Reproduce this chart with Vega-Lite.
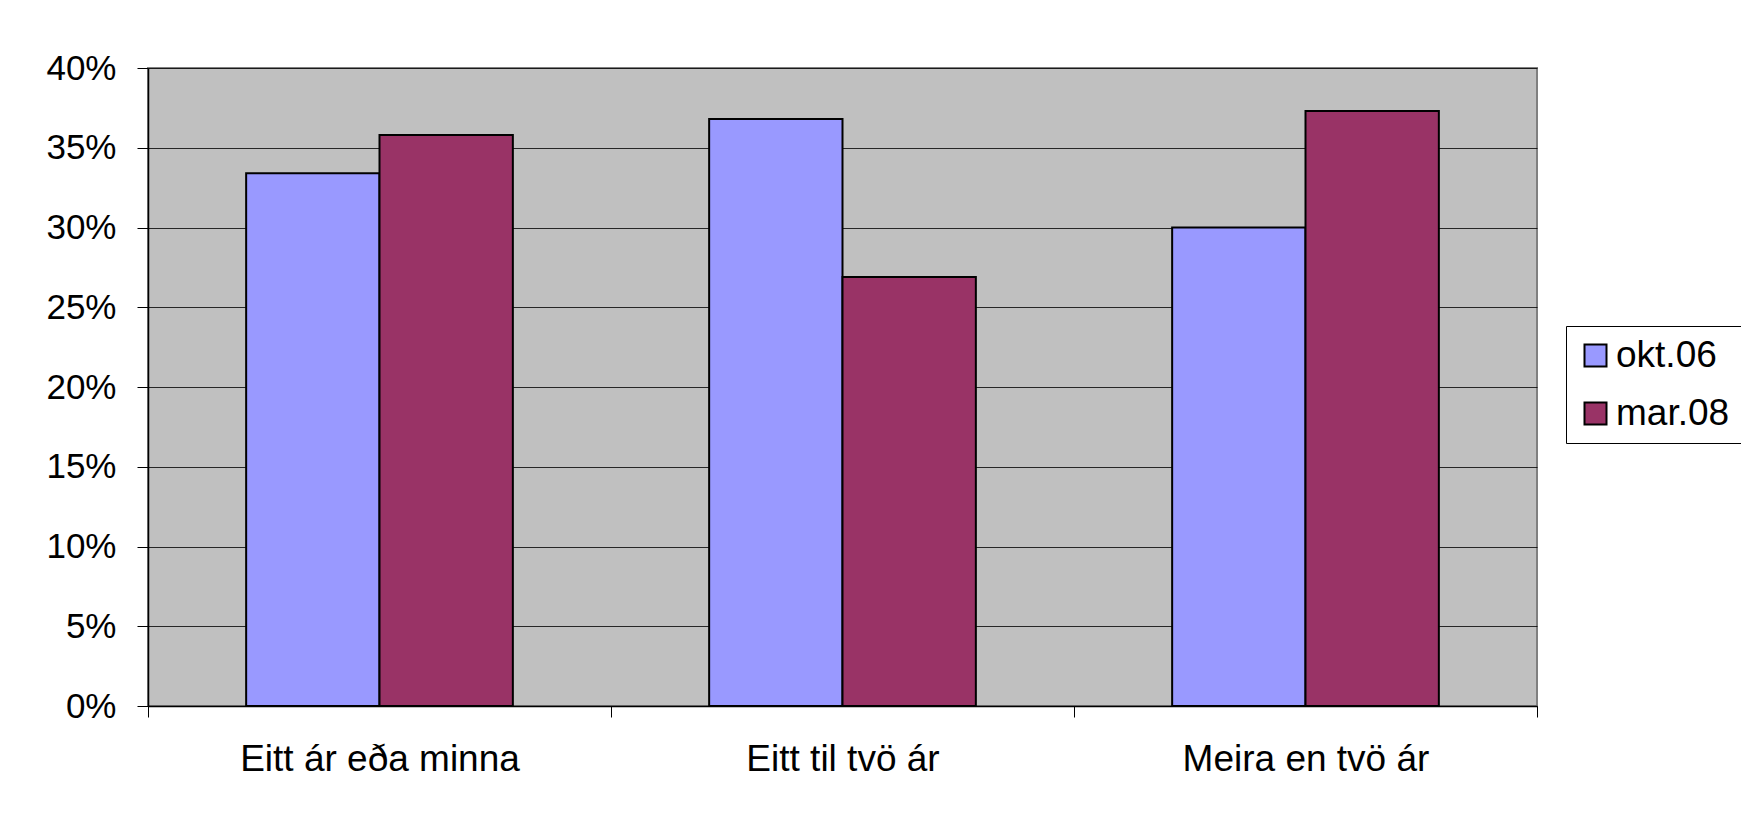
{
  "$schema": "https://vega.github.io/schema/vega-lite/v6.json",
  "width": 1389,
  "height": 638,
  "autosize": {"type": "none"},
  "padding": {"left": 148, "top": 68, "right": 204, "bottom": 112},
  "background": "white",
  "config": {
    "font": "Liberation Sans",
    "view": {"fill": "#C0C0C0", "stroke": "#808080", "strokeWidth": 2}
  },
  "data": {
    "values": [
      {"cat": "Eitt ár eða minna", "series": "okt.06", "value": 0.334},
      {"cat": "Eitt ár eða minna", "series": "mar.08", "value": 0.358},
      {"cat": "Eitt til tvö ár", "series": "okt.06", "value": 0.368},
      {"cat": "Eitt til tvö ár", "series": "mar.08", "value": 0.269},
      {"cat": "Meira en tvö ár", "series": "okt.06", "value": 0.300},
      {"cat": "Meira en tvö ár", "series": "mar.08", "value": 0.373}
    ]
  },
  "mark": {"type": "bar", "stroke": "black", "strokeWidth": 2},
  "encoding": {
    "x": {
      "field": "cat",
      "type": "nominal",
      "sort": ["Eitt ár eða minna", "Eitt til tvö ár", "Meira en tvö ár"],
      "scale": {"paddingInner": 0, "paddingOuter": 0},
      "axis": {
        "title": null,
        "labelAngle": 0,
        "labelLimit": 0,
        "tickBand": "extent",
        "tickSize": 11,
        "tickColor": "black",
        "domainColor": "black",
        "domainWidth": 1.5,
        "labelPadding": 53,
        "labelBaseline": "alphabetic",
        "labelFontSize": 37,
        "labelColor": "black",
        "grid": false
      }
    },
    "xOffset": {
      "field": "series",
      "type": "nominal",
      "sort": ["okt.06", "mar.08"],
      "scale": {"paddingInner": 0, "paddingOuter": 0.736}
    },
    "y": {
      "field": "value",
      "type": "quantitative",
      "scale": {"domain": [0, 0.4], "nice": false},
      "axis": {
        "title": null,
        "values": [0, 0.05, 0.1, 0.15, 0.2, 0.25, 0.3, 0.35, 0.4],
        "format": ".0%",
        "grid": true,
        "gridColor": "black",
        "gridWidth": 1,
        "gridOpacity": 0.8,
        "tickSize": 11,
        "tickColor": "black",
        "domainColor": "black",
        "domainWidth": 1.5,
        "labelPadding": 21,
        "labelFontSize": 35,
        "labelColor": "black"
      }
    },
    "color": {
      "field": "series",
      "type": "nominal",
      "scale": {"domain": ["okt.06", "mar.08"], "range": ["#9999FF", "#993366"]},
      "legend": {
        "title": null,
        "orient": "none",
        "legendX": 1418,
        "legendY": 258,
        "symbolType": "square",
        "symbolSize": 484,
        "symbolStrokeColor": "black",
        "symbolStrokeWidth": 2,
        "symbolOpacity": 1,
        "labelFontSize": 37,
        "labelLimit": 0,
        "labelColor": "black",
        "labelOffset": 2,
        "rowPadding": 20,
        "padding": 11,
        "strokeColor": "black",
        "fillColor": "white"
      }
    }
  }
}
